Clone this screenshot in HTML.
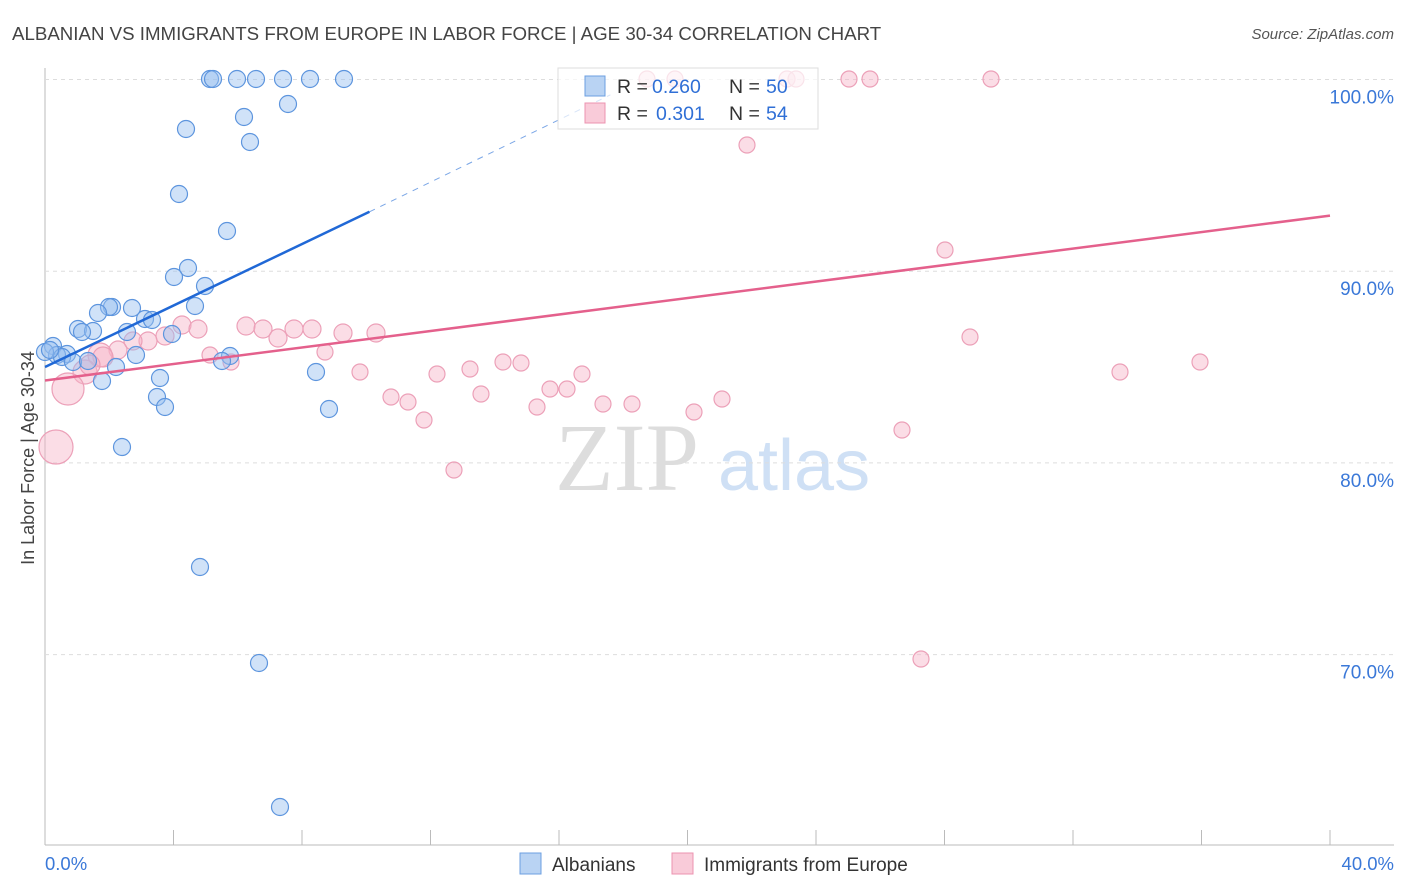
<!DOCTYPE html>
<html><head><meta charset="utf-8"><style>
body{margin:0;background:#fff;font-family:"Liberation Sans",sans-serif}
svg{display:block}
</style></head><body>
<svg id="chart" width="1406" height="892">
<text x="12" y="40" font-size="18.7" fill="#444">ALBANIAN VS IMMIGRANTS FROM EUROPE IN LABOR FORCE | AGE 30-34 CORRELATION CHART</text>
<text x="1394" y="39" font-size="15" fill="#555" font-style="italic" text-anchor="end">Source: ZipAtlas.com</text>
<text x="34" y="458" font-size="18" fill="#444" transform="rotate(-90 34 458)" text-anchor="middle">In Labor Force | Age 30-34</text>
<text x="555" y="490" font-size="96" fill="#ddd" font-family="Liberation Serif">ZIP</text>
<text x="718" y="490" font-size="72" fill="#cfe0f5">atlas</text>
<g id="grid"></g>
<g id="marks"></g>
<g>
<rect x="558" y="68" width="260" height="61" fill="#fff" fill-opacity="0.7" stroke="#ddd"/>
<rect x="585" y="76" width="20" height="20" fill="#b9d3f3" stroke="#6c9fe0"/>
<rect x="585" y="103" width="20" height="20" fill="#f9cbd9" stroke="#ec93b0"/>
<text x="617" y="93" font-size="19.5" fill="#333">R =</text><text x="652" y="93" font-size="19.5" fill="#2f6fd6">0.260</text>
<text x="729" y="93" font-size="19.5" fill="#333">N =</text><text x="766" y="93" font-size="19.5" fill="#2f6fd6">50</text>
<text x="617" y="120" font-size="19.5" fill="#333">R =</text><text x="656" y="120" font-size="19.5" fill="#2f6fd6">0.301</text>
<text x="729" y="120" font-size="19.5" fill="#333">N =</text><text x="766" y="120" font-size="19.5" fill="#2f6fd6">54</text>
</g>
<g>
<rect x="520" y="853" width="21" height="21" fill="#b9d3f3" stroke="#6c9fe0"/>
<text x="552" y="871" font-size="19" fill="#333">Albanians</text>
<rect x="672" y="853" width="21" height="21" fill="#f9cbd9" stroke="#ec93b0"/>
<text x="704" y="871" font-size="19" fill="#333">Immigrants from Europe</text>
</g>
<text x="45" y="870" font-size="18.5" fill="#3a78d8">0.0%</text>
<text x="1394" y="870" font-size="18.5" fill="#3a78d8" text-anchor="end">40.0%</text>
</svg>
<script>
const yTicks=[100,90,80,70];
const blueX=[210,213,237,256,283,310,344,288,244,186,250,179,227,188,174,205,195,112,109,132,98,145,152,78,93,82,127,172,53,67,57,62,136,230,222,73,88,116,316,160,102,157,165,329,122,200,259,280,45,50].map(p=>(p-45)/1285*40);
const blueY=[79,79,79,79,79,79,79,104,117,129,142,194,231,268,277,286,306,307,307,308,313,319,320,329,331,332,332,334,346,354,355,357,355,356,361,362,361,367,372,378,381,397,407,409,447,567,663,807,352,350].map(p=>100-(p-79.5)/19.17);
const pinkX=[647,675,787,796,849,870,991,747,945,970,1200,1120,246,182,198,263,294,312,343,376,278,165,148,133,118,325,210,231,503,521,470,360,437,582,391,550,567,408,481,537,603,632,722,694,424,902,454,921,100,85,68,56,103,90].map(p=>(p-45)/1285*40);
const pinkY=[79,79,79,79,79,79,79,145,250,337,362,372,326,325,329,329,329,329,333,333,338,336,341,341,350,352,355,362,362,363,369,372,374,374,397,389,389,402,394,407,404,404,399,412,420,430,470,659,355,372,389,447,357,365].map(p=>100-(p-79.5)/19.17);
const pinkR=[8,8,8,8,8,8,8,8,8,8,8,8,9,9,9,9,9,9,9,9,9,9,9,9,9,8,8,8,8,8,8,8,8,8,8,8,8,8,8,8,8,8,8,8,8,8,8,8,12,12,16,17,10,10];
const blueTrend=[[0,85.0],[10.1,93.1]], blueDash=[[10.1,93.1],[17.6,99.2]];
const pinkTrend=[[0,84.3],[40,92.9]];
const X=v=>45+v/40*1285, Y=v=>79.5+(100-v)*19.17;
const ns="http://www.w3.org/2000/svg";
const grid=document.getElementById('grid'), marks=document.getElementById('marks');
function mk(tag,attrs,parent){const e=document.createElementNS(ns,tag);for(const k in attrs)e.setAttribute(k,attrs[k]);parent.appendChild(e);return e;}
mk('line',{x1:45,y1:68,x2:45,y2:845,stroke:'#bbb'},grid);
mk('line',{x1:45,y1:845,x2:1394,y2:845,stroke:'#bbb'},grid);
for(let i=1;i<=10;i++){mk('line',{x1:X(i*4),y1:830,x2:X(i*4),y2:845,stroke:'#bbb'},grid);}
yTicks.forEach(t=>{
 const l=mk('line',{x1:45,y1:Y(t),x2:1394,y2:Y(t),stroke:'#ddd','stroke-dasharray':'4,4'},grid);
 
 
 const tx=mk('text',{x:1394,y:Y(t)+24,'font-size':19,fill:'#3a78d8','text-anchor':'end'},grid);
 tx.textContent=t.toFixed(1)+'%';
 
 
});
pinkX.forEach((x,i)=>{
 const c=mk('circle',{cx:X(x),cy:Y(pinkY[i]),r:pinkR[i],fill:'rgba(246,180,200,0.45)',stroke:'#eca0b8','stroke-width':1.2},marks);
 
 
});
blueX.forEach((x,i)=>{
 const c=mk('circle',{cx:X(x),cy:Y(blueY[i]),r:8.5,fill:'rgba(150,190,240,0.45)',stroke:'#5d95de','stroke-width':1.2},marks);
 
 
});
let l1=mk('line',{x1:X(pinkTrend[0][0]),y1:Y(pinkTrend[0][1]),x2:X(pinkTrend[1][0]),y2:Y(pinkTrend[1][1]),stroke:'#e4608c','stroke-width':2.5},marks);


let l2=mk('line',{x1:X(blueTrend[0][0]),y1:Y(blueTrend[0][1]),x2:X(blueTrend[1][0]),y2:Y(blueTrend[1][1]),stroke:'#2068d6','stroke-width':2.5},marks);


let l3=mk('line',{x1:X(blueDash[0][0]),y1:Y(blueDash[0][1]),x2:X(blueDash[1][0]),y2:Y(blueDash[1][1]),stroke:'#7aa6e6','stroke-width':1,'stroke-dasharray':'6,6'},marks);


</script>
</body></html>
